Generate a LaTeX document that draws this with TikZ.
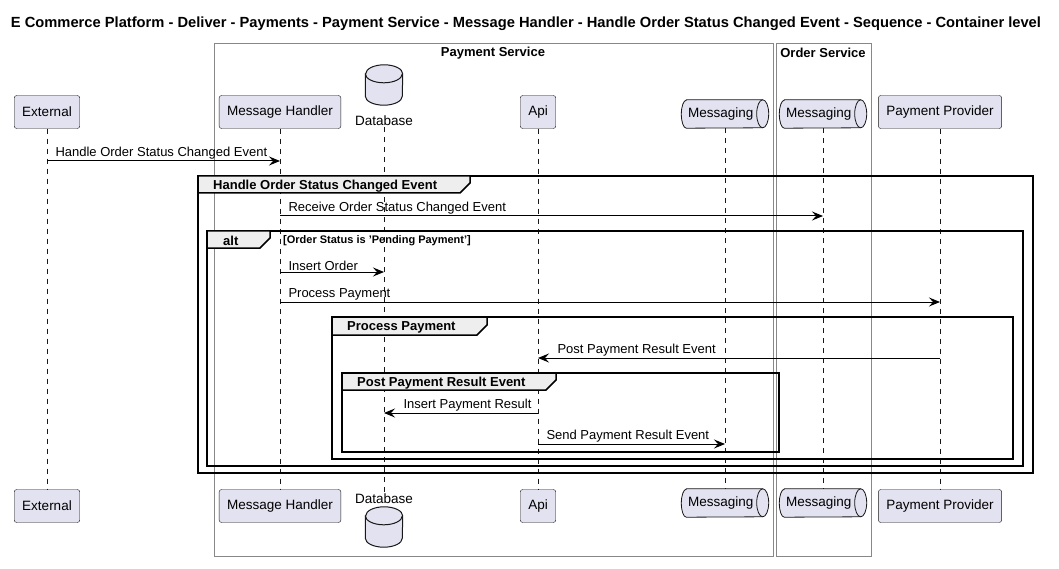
\documentclass[tikz,border=0pt]{standalone}
\usepackage{fontspec}
\setmainfont{Liberation Sans}
\usetikzlibrary{arrows.meta,positioning,backgrounds}

\definecolor{partfill}{HTML}{E2E2F0}
\definecolor{partline}{HTML}{181818}
\definecolor{tabfill}{HTML}{EEEEEE}
\definecolor{boxline}{HTML}{888888}

% queue outline round a named node
\newcommand{\queuebody}[1]{%
  \draw[draw=partline, fill=partfill, line width=0.8pt]
    ([xshift=5pt]#1.north west) -- ([xshift=-6pt]#1.north east)
    arc[start angle=90, end angle=-90, x radius=6pt, y radius=14pt]
    -- ([xshift=5pt]#1.south west)
    arc[start angle=270, end angle=90, x radius=5pt, y radius=14pt] -- cycle;
  \draw[draw=partline, line width=0.8pt]
    ([xshift=-6pt]#1.north east) arc[start angle=90, end angle=270, x radius=6pt, y radius=14pt];}

% database cylinder round a named node
\newcommand{\dbbody}[1]{%
  \draw[draw=partline, fill=partfill, line width=1pt]
    ([yshift=-9pt]#1.north west) -- ([yshift=9pt]#1.south west)
    arc[start angle=180, end angle=360, x radius=18.5pt, y radius=9pt]
    -- ([yshift=-9pt]#1.north east)
    arc[start angle=0, end angle=180, x radius=18.5pt, y radius=9pt] -- cycle;
  \draw[draw=partline, line width=1pt]
    ([yshift=-9pt]#1.north west) arc[start angle=180, end angle=360, x radius=18.5pt, y radius=9pt];}

\begin{document}
\begin{tikzpicture}[x=1pt, y=-1pt,
    participant/.style={draw=partline, fill=partfill, rounded corners=2.5pt, minimum height=33pt,
      inner xsep=8pt, font=\fontsize{13.5}{16}\selectfont},
    queue/.style={minimum width=87pt, minimum height=28pt, inner sep=0pt,
      font=\fontsize{13.5}{16}\selectfont, execute at begin node=\hspace*{-8.6pt}},
    dbcyl/.style={minimum width=37pt, minimum height=40pt, inner sep=0pt},
    dblabel/.style={inner sep=1pt, font=\fontsize{13.5}{16}\selectfont},
    lifeline/.style={draw=partline, line width=0.5pt, dash pattern=on 5pt off 5pt},
    msg/.style={-{Stealth[length=11pt, width=9pt, inset=4pt]}, line width=1pt},
    msglabel/.style={inner sep=1pt, anchor=south west, font=\fontsize{13}{15}\selectfont},
    frame/.style={draw=black, line width=1.5pt},
    tab/.style={draw=black, line width=1.5pt, fill=tabfill},
    tablabel/.style={inner sep=0pt, anchor=west, font=\bfseries\fontsize{13}{15}\selectfont},
    guard/.style={inner sep=0pt, anchor=west, font=\bfseries\fontsize{11}{13}\selectfont},
    boxtitle/.style={inner sep=0pt, font=\bfseries\fontsize{13}{15}\selectfont},
    container/.style={draw=boxline, line width=1pt}
  ]
  \useasboundingbox (0,0) rectangle (1059,569);

  \node[font=\bfseries\fontsize{14.7}{17}\selectfont] (title) at (526,24)
    {E Commerce Platform - Deliver - Payments - Payment Service - Message Handler - Handle Order Status Changed Event - Sequence - Container level};

  % containers
  \draw[container] (214,44) rectangle (773,556);
  \draw[container] (776,44) rectangle (871,556);
  \node[boxtitle] (pstitle) at (493,53) {Payment Service};
  \node[boxtitle] (ostitle) at (823,53) {Order Service};

  % participants, top row
  \node[participant] (ext) at (47,112) {External};
  \node[participant] (mh)  at (280,112) {Message Handler};
  \node[dbcyl]       (db)  at (384,85) {};
  \node[dblabel]     (dbl) at (384,121) {Database};
  \node[participant] (api) at (538,112) {Api};
  \node[queue]       (pmq) at (725,114) {Messaging};
  \node[queue]       (osq) at (823,114) {Messaging};
  \node[participant] (pp)  at (940,112) {Payment Provider};

  % participants, bottom row
  \node[participant] (ext2) at (47,506) {External};
  \node[participant] (mh2)  at (280,506) {Message Handler};
  \node[dblabel]     (dbl2) at (384,499) {Database};
  \node[dbcyl]       (db2)  at (384,527) {};
  \node[participant] (api2) at (538,506) {Api};
  \node[queue]       (pmq2) at (725,503) {Messaging};
  \node[queue]       (osq2) at (823,503) {Messaging};
  \node[participant] (pp2)  at (940,506) {Payment Provider};

  \dbbody{db}
  \dbbody{db2}
  \begin{scope}[on background layer]
    \queuebody{pmq}
    \queuebody{osq}
    \queuebody{pmq2}
    \queuebody{osq2}
  \end{scope}

  % lifelines
  \draw[lifeline] (ext.south) -- (ext2.north);
  \draw[lifeline] (mh.south)  -- (mh2.north);
  \draw[lifeline] (dbl.south) -- (dbl2.north);
  \draw[lifeline] (api.south) -- (api2.north);
  \draw[lifeline] (pmq.south) -- (pmq2.north);
  \draw[lifeline] (osq.south) -- (osq2.north);
  \draw[lifeline] (pp.south)  -- (pp2.north);

  % groups
  \draw[frame] (198,176) rectangle (1033,473);
  \draw[tab] (198,176) -- (470,176) -- (470,183) -- (460,193) -- (198,193) -- cycle;
  \node[tablabel] (gmain) at (213,186) {Handle Order Status Changed Event};

  \draw[frame] (207,231) rectangle (1023,466);
  \draw[tab] (207,231) -- (270,231) -- (270,238) -- (260,248) -- (207,248) -- cycle;
  \node[tablabel] (galt) at (223,241) {alt};
  \node[guard] (gcond) at (283,241) {[Order Status is 'Pending Payment']};

  \draw[frame] (332,317) rectangle (1013,459);
  \draw[tab] (332,317) -- (487,317) -- (487,325) -- (477,335) -- (332,335) -- cycle;
  \node[tablabel] (gpay) at (347,327) {Process Payment};

  \draw[frame] (342,373) rectangle (779,452);
  \draw[tab] (342,373) -- (556,373) -- (556,380) -- (546,390) -- (342,390) -- cycle;
  \node[tablabel] (gres) at (357,383) {Post Payment Result Event};

  % messages
  \draw[msg] (ext |- 0,161) -- (mh |- 0,161)
    node[msglabel, at start, xshift=7pt] {Handle Order Status Changed Event};
  \draw[msg] (mh |- 0,216) -- (osq |- 0,216)
    node[msglabel, at start, xshift=7pt] {Receive Order Status Changed Event};
  \draw[msg] (mh |- 0,272) -- (db |- 0,272)
    node[msglabel, at start, xshift=7pt] {Insert Order};
  \draw[msg] (mh |- 0,302) -- (pp |- 0,302)
    node[msglabel, at start, xshift=7pt] {Process Payment};
  \draw[msg] (pp |- 0,358) -- (api |- 0,358)
    node[msglabel, at end, xshift=18pt] {Post Payment Result Event};
  \draw[msg] (api |- 0,413) -- (db |- 0,413)
    node[msglabel, at end, xshift=18pt] {Insert Payment Result};
  \draw[msg] (api |- 0,444) -- (pmq |- 0,444)
    node[msglabel, at start, xshift=7pt] {Send Payment Result Event};
\end{tikzpicture}
\end{document}
